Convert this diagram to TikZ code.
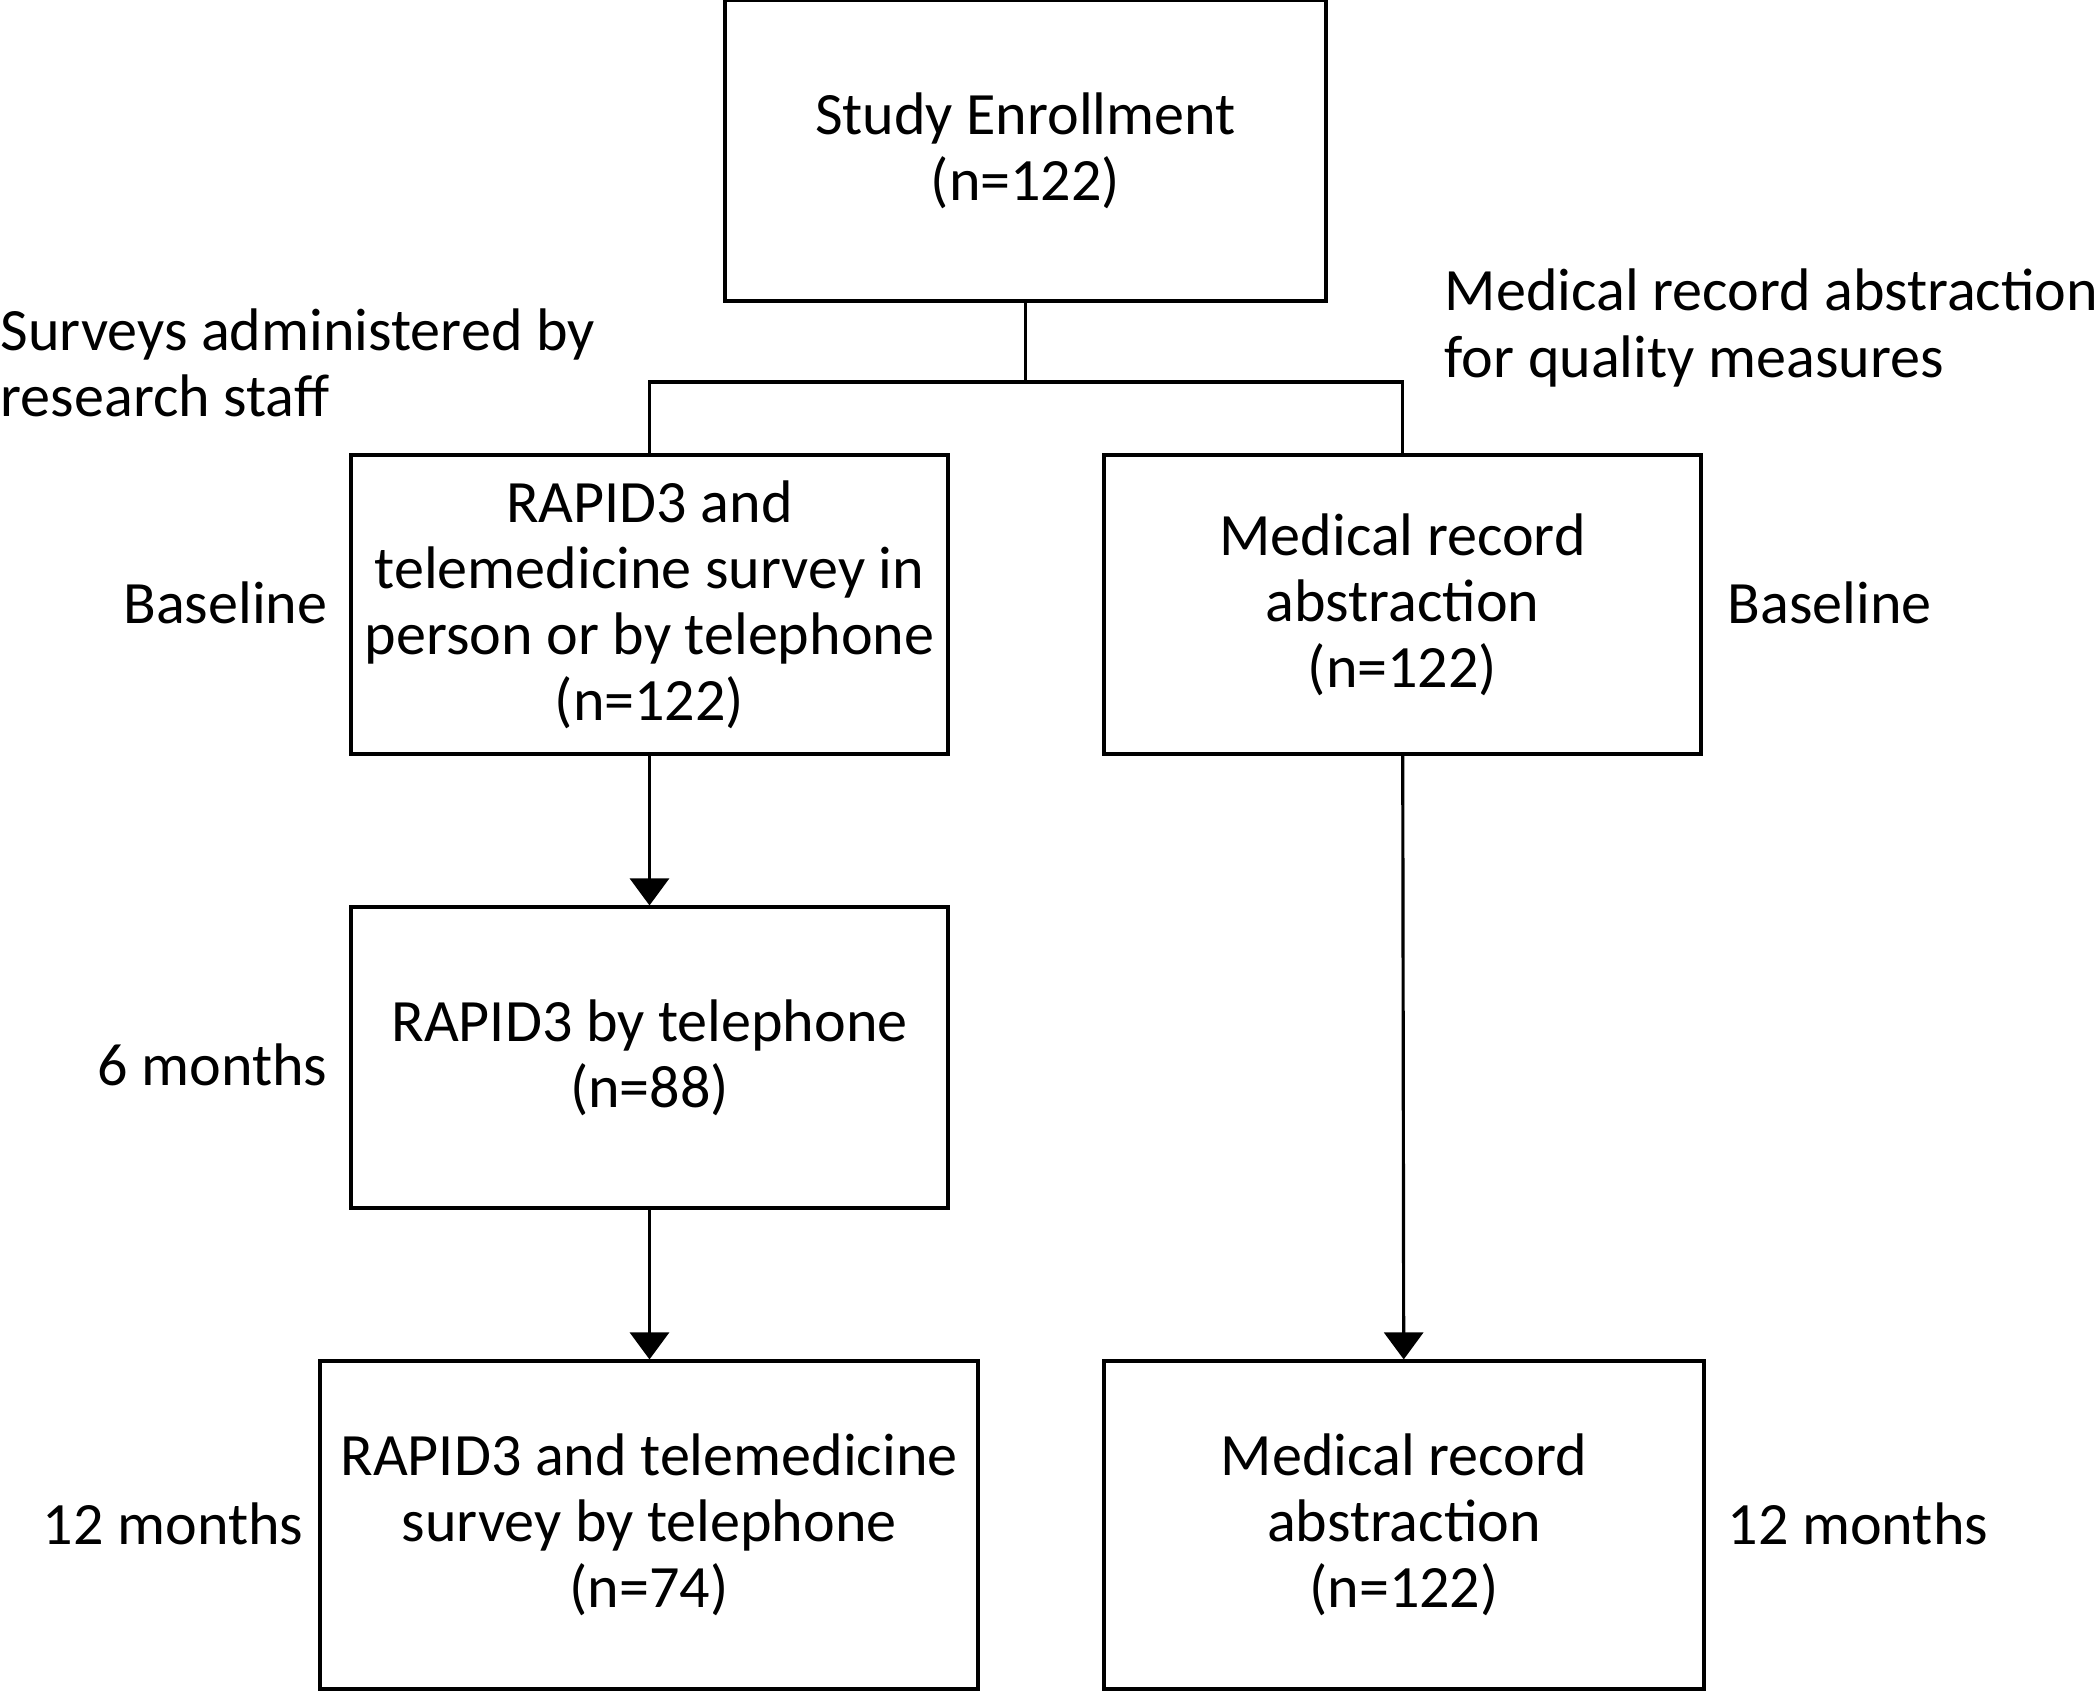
\documentclass[tikz,border=0pt]{standalone}
\usepackage{fontspec}
\setmainfont{Carlito}
\usetikzlibrary{arrows.meta}
\tikzset{
	stagebox/.style={draw=black,line width=0.9pt,align=center,inner sep=0pt,font=\fontsize{17.1}{18.8}\selectfont},
	timelabel/.style={inner sep=0pt,align=left,font=\fontsize{17.1}{18.8}\selectfont},
	flow/.style={black,line width=0.9pt},
	flowarrow/.style={black,line width=0.9pt,-{Triangle[width=0.39cm,length=0.27cm]}}
}
\begin{document}
\begin{tikzpicture}
	\useasboundingbox (0,0) rectangle (21,-16.91);
	% boxes
	\node[stagebox,minimum width=6.01cm,minimum height=3.01cm](enroll) at (10.255,-1.505){Study Enrollment\\(n=122)};
	\node[stagebox,minimum width=5.97cm,minimum height=2.99cm](survey0) at (6.495,-6.045){RAPID3 and\\telemedicine survey in\\person or by telephone\\(n=122)};
	\node[stagebox,minimum width=5.97cm,minimum height=2.99cm](record0) at (14.025,-6.045){Medical record\\abstraction\\(n=122)};
	\node[stagebox,minimum width=5.97cm,minimum height=3.01cm](survey6) at (6.495,-10.575){RAPID3 by telephone\\(n=88)};
	\node[stagebox,minimum width=6.58cm,minimum height=3.28cm](survey12) at (6.49,-15.25){RAPID3 and telemedicine\\survey by telephone\\(n=74)};
	\node[stagebox,minimum width=6.00cm,minimum height=3.28cm](record12) at (14.04,-15.25){Medical record\\abstraction\\(n=122)};
	% side labels
	\node[timelabel,anchor=west](surveyhead) at (0,-3.63){Surveys administered by\\research staff};
	\node[timelabel,anchor=west](recordhead) at (14.44,-3.28){Medical record abstraction\\for quality measures};
	\node[timelabel,anchor=east](base-l) at (3.28,-6.03){Baseline};
	\node[timelabel,anchor=east](six-l) at (3.28,-10.65){6 months};
	\node[timelabel,anchor=east](twelve-l) at (3.04,-15.24){12 months};
	\node[timelabel,anchor=west](base-r) at (17.27,-6.03){Baseline};
	\node[timelabel,anchor=west](twelve-r) at (17.27,-15.24){12 months};
	% connectors
	\coordinate(split) at (10.255,-3.82);
	\draw[flow](enroll)--(split);
	\draw[flow](split)-|(survey0.north);
	\draw[flow](split)-|(record0.north);
	\draw[flowarrow](survey0)--(survey6);
	\draw[flowarrow](survey6)--(survey6|-survey12.north);
	\draw[flowarrow](record0)--(record12);
\end{tikzpicture}
\end{document}
